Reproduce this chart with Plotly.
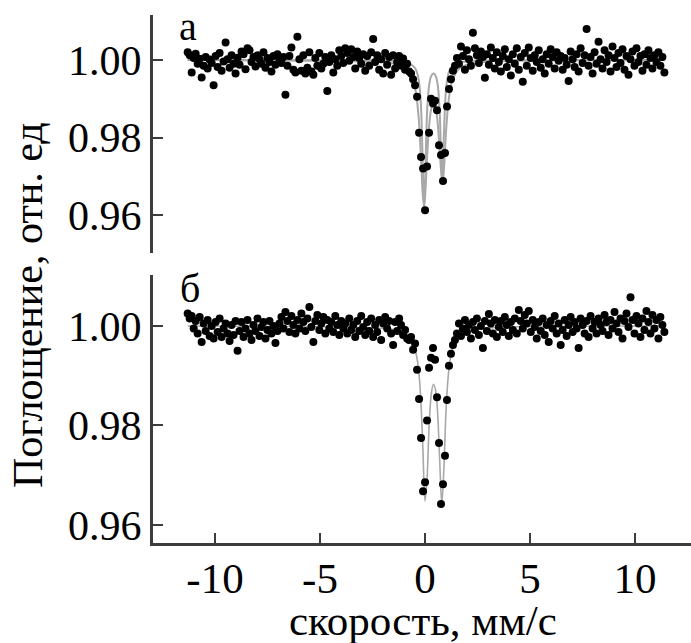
import numpy as np
import plotly.graph_objects as go

# ---------------- data ----------------
V_START, V_END, N_CH = -11.3, 11.4, 240
velocity = np.linspace(V_START, V_END, N_CH)

absorb_a = [
    1.0020, 1.0012, 0.9968, 1.0005, 1.0016, 0.9990, 1.0003, 0.9955, 0.9985, 1.0008,
    0.9978, 1.0001, 0.9992, 0.9935, 1.0010, 0.9982, 1.0018, 0.9972, 0.9996, 1.0045,
    1.0002, 0.9980, 1.0012, 0.9990, 0.9965, 1.0006, 0.9988, 1.0022, 1.0015, 0.9976,
    1.0030, 1.0025, 0.9995, 1.0008, 0.9983, 1.0012, 1.0002, 0.9990, 1.0020, 0.9980,
    1.0005, 0.9995, 0.9970, 1.0010, 0.9988, 1.0015, 1.0003, 0.9992, 1.0008, 0.9910,
    0.9985, 1.0010, 1.0032, 0.9975, 0.9968, 1.0060, 1.0002, 0.9972, 1.0012, 0.9965,
    0.9980, 1.0020, 0.9970, 0.9962, 1.0005, 0.9985, 1.0018, 0.9978, 0.9990, 1.0008,
    0.9920, 0.9995, 1.0012, 0.9968, 1.0002, 0.9985, 1.0025, 1.0010, 0.9992, 1.0030,
    1.0018, 0.9998, 1.0028, 1.0008, 0.9978, 1.0022, 1.0005, 0.9990, 1.0015, 0.9972,
    1.0010, 0.9985, 1.0020, 1.0054, 0.9995, 1.0012, 0.9975, 1.0002, 0.9965, 1.0018,
    0.9988, 1.0008, 0.9962, 1.0012, 0.9978, 0.9995, 1.0010, 0.9985, 1.0004, 0.9975,
    0.9990, 0.9970,
    0.9965, 0.9950, 0.9935, 0.9905, 0.9812, 0.9750, 0.9720, 0.9612, 0.9725, 0.9812,
    0.9900, 0.9888, 0.9895, 0.9870, 0.9780, 0.9755, 0.9688, 0.9760, 0.9880, 0.9925,
    0.9950, 0.9972, 0.9985,
    1.0005, 0.9990, 1.0035, 1.0010, 0.9975, 1.0025, 1.0002, 0.9985, 1.0070, 1.0030,
    1.0012, 0.9992, 1.0022, 1.0008, 0.9954, 1.0015, 0.9988, 1.0032, 1.0005, 0.9978,
    1.0020, 0.9995, 0.9970, 1.0010, 1.0028, 0.9982, 1.0002, 0.9960, 1.0015, 0.9990,
    1.0030, 0.9975, 1.0008, 0.9944, 1.0018, 0.9985, 1.0032, 1.0005, 0.9972, 1.0012,
    0.9995, 1.0025, 0.9980, 1.0002, 0.9965, 1.0015, 0.9990, 1.0028, 1.0008, 0.9978,
    1.0020, 0.9998, 1.0010, 0.9975, 1.0005, 0.9988, 0.9946, 1.0022, 1.0002, 0.9982,
    1.0015, 0.9970, 1.0030, 0.9992, 1.0012, 1.0080, 0.9985, 1.0008, 0.9965, 1.0020,
    0.9990, 1.0047, 1.0002, 0.9978, 1.0025, 0.9995, 1.0012, 0.9970, 1.0035, 1.0005,
    0.9982, 1.0018, 0.9992, 1.0028, 0.9975, 1.0010, 0.9962, 1.0002, 1.0022, 0.9985,
    1.0030, 0.9995, 1.0010, 0.9972, 1.0015, 0.9988, 1.0025, 1.0005, 0.9978, 1.0012,
    0.9995, 1.0020, 0.9985, 1.0008, 0.9968,
]

absorb_b = [
    1.0025, 1.0015, 1.0020, 0.9995, 1.0010, 0.9985, 1.0018, 0.9968, 1.0005, 0.9990,
    1.0012, 0.9980, 1.0000, 0.9975, 1.0008, 0.9988, 1.0015, 0.9978, 0.9995, 1.0005,
    0.9985, 0.9970, 1.0002, 0.9982, 1.0010, 0.9950, 0.9990, 1.0008, 0.9978, 0.9995,
    1.0012, 0.9985, 0.9972, 1.0002, 0.9990, 1.0015, 0.9980, 0.9998, 1.0008, 0.9975,
    0.9992, 1.0010, 0.9985, 1.0000, 0.9966, 0.9990, 1.0005, 1.0018, 0.9995, 1.0028,
    1.0010, 0.9988, 1.0020, 1.0002, 0.9985, 1.0012, 0.9995, 1.0025, 1.0008, 0.9990,
    1.0015, 1.0038, 0.9998, 0.9968, 1.0010, 1.0022, 0.9992, 1.0005, 1.0018, 0.9985,
    1.0012, 0.9995, 1.0008, 0.9988, 1.0020, 1.0002, 0.9982, 1.0010, 0.9995, 1.0005,
    0.9985, 1.0015, 0.9992, 1.0002, 0.9978, 1.0010, 0.9990, 1.0020, 0.9998, 0.9982,
    1.0008, 0.9990, 1.0015, 0.9978, 1.0002, 0.9988, 1.0012, 0.9972, 1.0005, 1.0018,
    0.9995, 1.0010, 0.9985, 0.9962, 1.0008, 0.9990, 1.0015, 1.0002, 0.9982, 0.9992,
    0.9975, 0.9972,
    0.9978, 0.9952, 0.9965, 0.9912, 0.9853, 0.9775, 0.9668, 0.9686, 0.9810, 0.9916,
    0.9936, 0.9956, 0.9932, 0.9857, 0.9765, 0.9642, 0.9682, 0.9739, 0.9851, 0.9920,
    0.9944, 0.9962, 0.9972,
    0.9985, 1.0005, 0.9980, 0.9995, 1.0012, 0.9988, 1.0002, 0.9975, 1.0008, 0.9992,
    1.0015, 0.9982, 1.0000, 0.9956, 1.0010, 0.9990, 1.0024, 1.0005, 0.9985, 1.0012,
    0.9978, 0.9998, 1.0010, 0.9988, 1.0018, 1.0002, 0.9980, 1.0008, 0.9992, 1.0015,
    0.9985, 1.0032, 1.0010, 0.9995, 1.0022, 1.0005, 1.0030, 0.9988, 1.0012, 0.9998,
    0.9975, 1.0008, 0.9990, 1.0015, 0.9982, 1.0002, 0.9968, 1.0010, 0.9995, 1.0020,
    0.9985, 1.0005, 0.9962, 0.9992, 1.0012, 0.9980, 1.0002, 1.0018, 0.9988, 1.0008,
    0.9995, 0.9956, 1.0015, 1.0002, 0.9985, 1.0010, 0.9978, 1.0020, 0.9995, 1.0008,
    0.9985, 1.0015, 1.0002, 0.9990, 1.0022, 1.0008, 0.9982, 1.0012, 0.9995, 1.0028,
    1.0005, 0.9988, 1.0015, 0.9975, 1.0010, 1.0025, 0.9998, 1.0058, 1.0012, 0.9985,
    1.0020, 1.0005, 0.9978, 1.0015, 0.9992, 1.0030, 1.0008, 0.9985, 1.0022, 0.9995,
    1.0012, 0.9975, 1.0018, 1.0002, 0.9988,
]

# fit curves
fit_a1_x = [-11.3, -3.0, -2.0, -1.5, -1.0, -0.7, -0.5, -0.4, -0.3, -0.2, -0.1, -0.04, 0.0, 0.1, 0.2,
            0.3, 0.4, 0.5, 0.6, 0.7, 0.76, 0.82, 0.9, 1.0, 1.1, 1.2, 1.35, 1.6, 2.0, 3.0, 11.4]
fit_a1_y = [1.0000, 0.9999, 0.9999, 0.9998, 0.9995, 0.9990, 0.9981, 0.9971, 0.9949, 0.9890, 0.9717,
            0.9616, 0.9668, 0.9866, 0.9936, 0.9959, 0.9965, 0.9960, 0.9938, 0.9866, 0.9766, 0.9685,
            0.9807, 0.9923, 0.9962, 0.9977, 0.9987, 0.9993, 0.9997, 0.9999, 1.0000]
fit_a2_x = [-11.3, -4.0, -3.0, -2.0, -1.5, -1.0, -0.7, -0.5, -0.4, -0.3, -0.2, -0.1, -0.05, 0.0, 0.1,
            0.2, 0.3, 0.4, 0.5, 0.6, 0.7, 0.83, 0.9, 1.0, 1.1, 1.2, 1.35, 1.6, 2.0, 3.0, 4.0, 11.4]
fit_a2_y = [1.0000, 0.9998, 0.9996, 0.9995, 0.9991, 0.9981, 0.9964, 0.9934, 0.9904, 0.9850, 0.9759,
            0.9648, 0.9625, 0.9645, 0.9749, 0.9832, 0.9874, 0.9887, 0.9877, 0.9840, 0.9765, 0.9682,
            0.9717, 0.9813, 0.9883, 0.9923, 0.9954, 0.9976, 0.9988, 0.9996, 0.9998, 1.0000]
fit_b_x = [-11.3, -3.0, -1.5, -1.0, -0.7, -0.5, -0.4, -0.3, -0.2, -0.1, 0.0, 0.1, 0.2, 0.3, 0.4,
           0.5, 0.6, 0.7, 0.8, 0.9, 1.0, 1.1, 1.2, 1.35, 1.6, 2.0, 3.0, 11.4]
fit_b_y = [1.0000, 0.9997, 0.9993, 0.9986, 0.9975, 0.9957, 0.9940, 0.9910, 0.9853, 0.9752, 0.9648,
           0.9696, 0.9803, 0.9863, 0.9883, 0.9872, 0.9826, 0.9730, 0.9644, 0.9714, 0.9828, 0.9896,
           0.9933, 0.9960, 0.9979, 0.9990, 0.9996, 1.0000]

x_ticks = [-10, -5, 0, 5, 10]
x_tick_text = ["-10", "-5", "0", "5", "10"]
y_ticks = [0.96, 0.98, 1.00]
y_tick_text = ["0.96", "0.98", "1.00"]
panel_labels = ["а", "б"]
x_title = "скорость, мм/с"
y_title = "Поглощение, отн. ед"

# ---------------- figure ----------------
FONT = "Liberation Serif, Times New Roman, serif"
AX = "#3c3c3c"
FIT = "#a8a8a8"

fig = go.Figure()
for fx, fy in [(fit_a2_x, fit_a2_y), (fit_a1_x, fit_a1_y)]:
    fig.add_trace(go.Scatter(x=fx, y=fy, mode="lines", line=dict(color=FIT, width=2, shape="spline"),
                             xaxis="x2", yaxis="y", showlegend=False, hoverinfo="skip"))
fig.add_trace(go.Scatter(x=velocity, y=absorb_a, mode="markers",
                         marker=dict(color="black", size=8), xaxis="x2", yaxis="y", showlegend=False))
fig.add_trace(go.Scatter(x=fit_b_x, y=fit_b_y, mode="lines", line=dict(color=FIT, width=1.6, shape="spline"),
                         xaxis="x", yaxis="y2", showlegend=False, hoverinfo="skip"))
fig.add_trace(go.Scatter(x=velocity, y=absorb_b, mode="markers",
                         marker=dict(color="black", size=8), xaxis="x", yaxis="y2", showlegend=False))

xr = [-12.952, 12.667]
yaxis_common = dict(tickvals=y_ticks, ticktext=y_tick_text, ticks="inside", ticklen=10, tickwidth=2,
                    tickcolor=AX, showline=True, linecolor=AX, linewidth=3, showgrid=False, zeroline=False,
                    tickfont=dict(family=FONT, size=42, color="black"))

fig.update_layout(
    width=691, height=643,
    margin=dict(l=153, r=0, t=15, b=100),
    paper_bgcolor="white", plot_bgcolor="white",
    xaxis=dict(domain=[0, 1], range=xr, anchor="y2", tickvals=x_ticks, ticktext=x_tick_text,
               ticks="inside", ticklen=10, tickwidth=2, tickcolor=AX, showline=True, linecolor=AX,
               linewidth=3, showgrid=False, zeroline=False, ticklabelstandoff=-5,
               tickfont=dict(family=FONT, size=43, color="black")),
    xaxis2=dict(domain=[0, 1], range=xr, anchor="y", visible=False, matches="x"),
    yaxis=dict(domain=[0.5492, 1.0], range=[0.95019, 1.01161], anchor="x2", **yaxis_common),
    yaxis2=dict(domain=[0, 0.5076], range=[0.95638, 1.01025], anchor="x", **yaxis_common),
    annotations=[
        dict(text=panel_labels[0], x=(188 - 153) / 538, y=(543 - 26) / 528, xref="paper", yref="paper",
             showarrow=False, font=dict(family=FONT, size=40, color="black"), xanchor="center", yanchor="middle"),
        dict(text=panel_labels[1], x=(190 - 153) / 538, y=(543 - 288) / 528, xref="paper", yref="paper",
             showarrow=False, font=dict(family=FONT, size=40, color="black"), xanchor="center", yanchor="middle"),
        dict(text=x_title, x=(423 - 153) / 538, y=(543 - 646) / 528, xref="paper", yref="paper",
             showarrow=False, font=dict(family=FONT, size=43, color="black"), xanchor="center", yanchor="bottom"),
        dict(text=y_title, x=(28 - 153) / 538, y=(543 - 305) / 528, xref="paper", yref="paper",
             textangle=-90, showarrow=False, font=dict(family=FONT, size=42, color="black"),
             xanchor="center", yanchor="middle"),
    ],
)

fig.write_html("out.html")
